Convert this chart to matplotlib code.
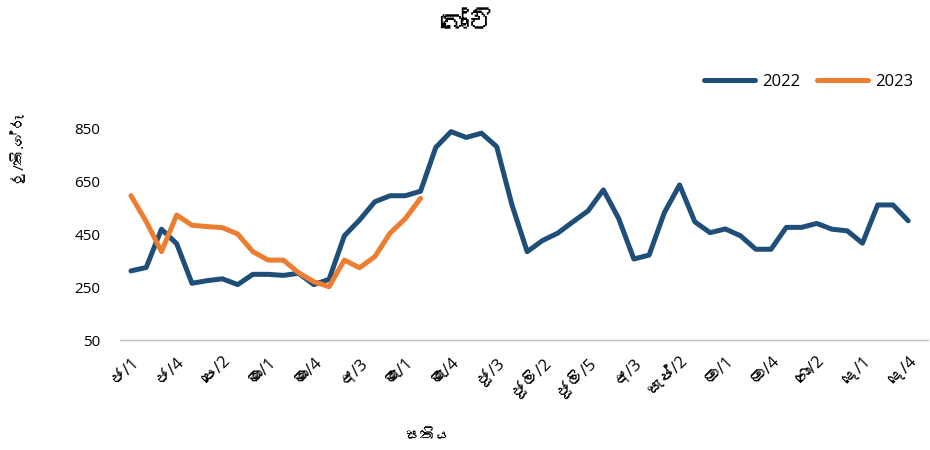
import matplotlib.pyplot as plt
import matplotlib.font_manager as fm
from matplotlib.ft2font import FT2Font

# month abbreviations (Sinhala) and weeks in each month
months = ['ජ', 'පෙ', 'මා', 'අ', 'මැ', 'ජූ', 'ජූලි', 'අ', 'සැප්', 'ඔ', 'නො', 'දෙ']
weeks_in_month = [5, 4, 4, 5, 4, 4, 5, 4, 4, 5, 4, 4]

price_2022 = [312, 325, 470, 415, 265, 275, 282, 260, 299, 299, 295, 303,
              260, 280, 445, 505, 574, 597, 597, 614, 780, 840, 818, 834,
              783, 562, 385, 427, 455, 498, 540, 619, 511, 357, 372, 533,
              638, 498, 457, 471, 445, 394, 394, 477, 477, 492, 470, 464,
              417, 562, 562, 502]
price_2023 = [597, 499, 385, 524, 485, 480, 476, 452, 385, 353, 353, 305,
              271, 252, 353, 324, 366, 455, 510, 587]

title = 'බෝංචි'
ylabel = 'රු/කි.ග්‍රෑ'
xlabel = 'සතිය'

weeks = []
for m, n in zip(months, weeks_in_month):
    for w in range(1, n + 1):
        weeks.append(f'{m}/{w}')


def find_sinhala_font():
    for f in fm.fontManager.ttflist:
        try:
            if 0x0DB6 in FT2Font(f.fname).get_charmap():
                return f.name
        except Exception:
            pass
    return None


sin = find_sinhala_font()
families = ['Open Sans', 'DejaVu Sans'] + ([sin] if sin else [])
plt.rcParams['font.family'] = families

fig = plt.figure(figsize=(9.3, 4.5), dpi=100)
ax = fig.add_axes([120 / 930, 1 - 340 / 450, 808 / 930, 211 / 450])

x = list(range(len(weeks)))
ax.plot(x, price_2022, color='#1F4E79', lw=3.6, label='2022',
        solid_joinstyle='round', solid_capstyle='round', clip_on=False)
ax.plot(x[:len(price_2023)], price_2023, color='#ED7D31', lw=3.6, label='2023',
        solid_joinstyle='round', solid_capstyle='round', clip_on=False)

ax.set_xlim(-0.72, 52.3)
ax.set_ylim(50, 850)
ax.set_yticks([50, 250, 450, 650, 850])
ax.tick_params(axis='y', length=0, labelsize=11, pad=14)
ax.set_xticks(x[::3])
ax.set_xticklabels(weeks[::3], rotation=45, ha='right', rotation_mode='anchor',
                   fontsize=12)
ax.tick_params(axis='x', length=0, pad=10)

for s in ['top', 'right', 'left']:
    ax.spines[s].set_visible(False)
ax.spines['bottom'].set_color('#BFBFBF')
ax.spines['bottom'].set_linewidth(1)

fig.text(468 / 930, 1 - 25 / 450, title, ha='center', va='center',
         fontsize=20, fontweight='bold')
fig.text(20 / 930, 1 - 150 / 450, ylabel, ha='center', va='center',
         rotation=90, fontsize=11)
fig.text(428 / 930, 1 - 437 / 450, xlabel, ha='center', va='center',
         fontsize=11)

fig.legend(loc='center right', bbox_to_anchor=(0.998, 1 - 82 / 450), ncol=2,
           frameon=False, handlelength=3.1, fontsize=12, columnspacing=1.0,
           handletextpad=0.4)

fig.savefig('out.png', dpi=100)
